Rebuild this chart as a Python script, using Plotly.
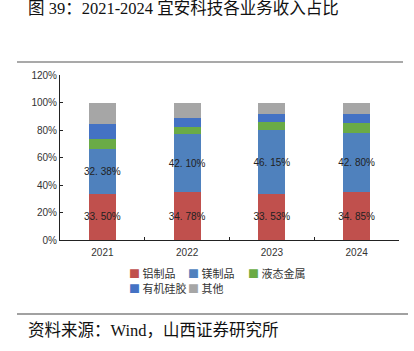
import plotly.graph_objects as go

years = ["2021", "2022", "2023", "2024"]
series_names = ["铝制品", "镁制品", "液态金属", "有机硅胶", "其他"]
aluminum = [33.50, 34.78, 33.53, 34.85]
magnesium = [32.38, 42.10, 46.15, 42.80]
liquid_metal = [7.5, 5.2, 6.0, 7.1]
silicone = [11.3, 6.5, 6.3, 6.8]
others = [15.32, 11.42, 8.02, 8.45]
colors = ["#C0504D", "#4F81BD", "#6AAB46", "#4472C4", "#A6A6A6"]
labeled = [True, True, False, False, False]

values = [aluminum, magnesium, liquid_metal, silicone, others]

# plot area in pixels
L, R, T, B = 60, 15, 75, 111
W, H = 414, 351
PW, PH = W - L - R, H - T - B


def px_x(x):
    return (x - L) / PW


def px_y(y):
    return (H - B - y) / PH


def fmt(v):
    return f"{v:.2f}%".replace(".", ". ")


fig = go.Figure()
for i, (name, vals, col, lab) in enumerate(zip(series_names, values, colors, labeled)):
    fig.add_trace(go.Bar(
        x=years, y=vals, name=name,
        marker=dict(color=col, line=dict(width=0)),
        width=0.32,
        text=[fmt(v) for v in vals] if lab else None,
        textposition="inside" if lab else "none",
        insidetextanchor="middle",
        constraintext="none",
        textangle=0,
        textfont=dict(family="Arial, Liberation Sans", size=10, color="#222222"),
        showlegend=False,
        hoverinfo="skip",
    ))

axis_font = dict(family="Arial, Liberation Sans", size=10, color="#333333")
fig.update_layout(
    width=W, height=H,
    barmode="stack",
    plot_bgcolor="white", paper_bgcolor="white",
    margin=dict(l=L, r=R, t=T, b=B, autoexpand=False),
    xaxis=dict(
        type="category", showline=True, linecolor="#222222", linewidth=1,
        ticks="inside", ticklen=3, tickcolor="#222222", tickson="boundaries",
        tickfont=axis_font, showgrid=False, fixedrange=True,
        ticklabelstandoff=3,
    ),
    yaxis=dict(
        range=[0, 120], dtick=20, ticksuffix="%", showline=True,
        linecolor="#222222", linewidth=1, ticks="inside", ticklen=3,
        tickcolor="#222222", tickfont=axis_font, showgrid=False,
        zeroline=False, fixedrange=True,
    ),
)

# legend (manual, two rows as in the reference)
legend_pos = [(128, 273), (187, 273), (247, 273), (128, 288), (187, 288)]
for name, col, (lx, ly) in zip(series_names, colors, legend_pos):
    fig.add_annotation(
        text=f"<span style='color:{col}'>■</span> {name}",
        xref="paper", yref="paper", x=px_x(lx - 1), y=px_y(ly),
        xanchor="left", yanchor="middle", showarrow=False,
        font=dict(family="Noto Sans CJK SC", size=11, color="#333333"),
    )

# Title and source
fig.add_annotation(
    text="图 39：2021-2024 宜安科技各业务收入占比",
    xref="paper", yref="paper", x=px_x(26), y=px_y(8),
    xanchor="left", yanchor="middle", showarrow=False,
    font=dict(family="Liberation Serif, Noto Sans CJK SC", size=16.5, color="#111111"),
)
fig.add_annotation(
    text="资料来源：Wind，山西证券研究所",
    xref="paper", yref="paper", x=px_x(26), y=px_y(330),
    xanchor="left", yanchor="middle", showarrow=False,
    font=dict(family="Liberation Serif, Noto Sans CJK SC", size=16.5, color="#111111"),
)
# frame lines
fig.add_shape(type="line", xref="paper", yref="paper",
              x0=px_x(17), x1=px_x(403), y0=px_y(62), y1=px_y(62),
              line=dict(color="#8C8C8C", width=1.5))
fig.add_shape(type="line", xref="paper", yref="paper",
              x0=px_x(17), x1=px_x(408), y0=px_y(314), y1=px_y(314),
              line=dict(color="#444444", width=1.2))

fig.write_html("out.html")
